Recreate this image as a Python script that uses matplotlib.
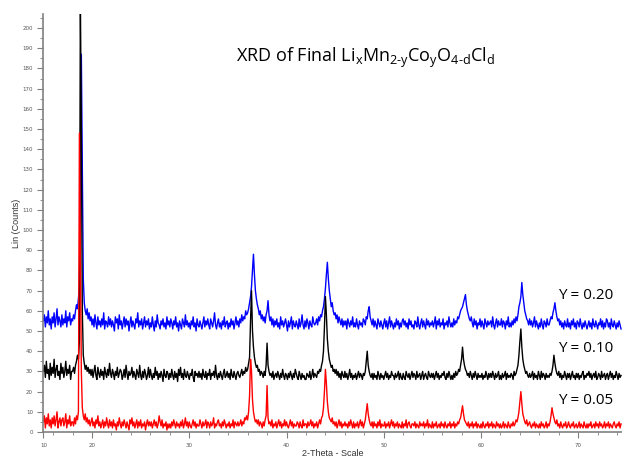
import numpy as np
import matplotlib
matplotlib.use("Agg")
import matplotlib.pyplot as plt
from matplotlib.ticker import MultipleLocator

# intensities, one row per degree (step 0.1 deg), start 15 deg
start = 15.0
step = 0.1

y020 = [55, 58, 52, 57, 54, 60, 53, 56, 51, 57,
        54, 59, 52, 56, 61, 53, 57, 55, 52, 58,
        53, 56, 54, 60, 52, 57, 55, 59, 53, 56,
        55, 58, 56, 60, 63, 61, 66, 72, 110, 187,
        130, 76, 64, 60, 58, 61, 56, 59, 55, 57,
        53, 56, 52, 58, 54, 51, 57, 53, 55, 52,
        56, 53, 59, 51, 55, 54, 52, 57, 53, 56,
        52, 55, 53, 50, 57, 54, 56, 51, 58, 53,
        55, 51, 54, 57, 52, 56, 53, 55, 50, 54,
        57, 52, 55, 53, 51, 56, 54, 59, 52, 55,
        53, 56, 51, 54, 57, 52, 55, 53, 56, 51,
        54, 52, 57, 53, 50, 55, 52, 58, 54, 53,
        51, 55, 53, 56, 52, 54, 51, 57, 53, 55,
        52, 56, 54, 51, 55, 53, 57, 52, 54, 50,
        55, 53, 51, 56, 54, 52, 58, 53, 55, 52,
        54, 51, 55, 53, 57, 52, 54, 50, 56, 53,
        52, 55, 53, 51, 54, 57, 52, 55, 53, 56,
        53, 51, 56, 54, 52, 55, 59, 53, 51, 54,
        56, 52, 54, 51, 55, 53, 57, 52, 54, 55,
        51, 54, 52, 56, 53, 55, 51, 54, 57, 53,
        55, 52, 56, 54, 58, 55, 57, 56, 60, 58,
        59, 61, 64, 67, 72, 80, 88, 78, 70, 66,
        63, 61, 58, 60, 56, 58, 55, 57, 54, 58,
        60, 65, 58, 55, 57, 53, 56, 52, 55, 53,
        56, 52, 54, 51, 57, 53, 55, 52, 54, 56,
        53, 50, 55, 52, 54, 57, 51, 55, 53, 52,
        55, 53, 51, 56, 52, 54, 58, 53, 51, 55,
        52, 56, 54, 51, 55, 53, 52, 57, 54, 53,
        54, 56, 53, 57, 55, 58, 57, 60, 62, 66,
        71, 78, 84, 76, 70, 66, 62, 64, 60, 58,
        59, 56, 58, 54, 57, 55, 53, 56, 52, 55,
        53, 55, 51, 56, 54, 52, 55, 53, 57, 52,
        54, 52, 56, 53, 51, 55, 53, 54, 52, 56,
        55, 53, 57, 56, 60, 62, 57, 55, 53, 56,
        52, 55, 53, 51, 56, 54, 52, 55, 53, 51,
        54, 56, 52, 55, 51, 54, 57, 52, 55, 53,
        51, 54, 52, 56, 53, 55, 51, 54, 52, 55,
        56, 53, 55, 52, 54, 51, 56, 53, 55, 52,
        53, 51, 55, 54, 52, 57, 53, 51, 54, 56,
        52, 55, 53, 51, 56, 53, 55, 52, 54, 53,
        55, 52, 54, 57, 51, 55, 53, 56, 52, 54,
        53, 56, 51, 54, 53, 55, 52, 57, 54, 52,
        54, 52, 56, 53, 55, 54, 57, 56, 58, 60,
        61, 62, 64, 66, 68, 63, 60, 58, 56, 55,
        57, 54, 52, 56, 53, 55, 51, 54, 53, 56,
        52, 55, 53, 51, 56, 54, 52, 55, 53, 54,
        55, 52, 57, 53, 51, 54, 56, 52, 55, 53,
        53, 56, 52, 55, 54, 51, 55, 53, 57, 52,
        54, 52, 55, 53, 56, 54, 57, 55, 58, 62,
        64, 67, 74, 68, 64, 60, 58, 56, 55, 53,
        56, 53, 55, 52, 54, 57, 52, 55, 53, 51,
        54, 52, 56, 53, 51, 55, 54, 52, 56, 53,
        53, 55, 57, 56, 59, 61, 64, 60, 57, 55,
        56, 53, 55, 52, 54, 51, 55, 53, 52, 56,
        52, 54, 51, 55, 53, 56, 52, 54, 51, 55,
        54, 52, 56, 53, 51, 54, 52, 55, 53, 51,
        53, 55, 52, 54, 51, 56, 53, 52, 55, 53,
        51, 54, 53, 56, 52, 55, 51, 54, 52, 56,
        55, 52, 54, 51, 56, 53, 52, 55, 53, 51,
        54, 52, 55, 53, 51]

y010 = [30, 33, 27, 35, 29, 31, 26, 34, 28, 32,
        29, 36, 27, 31, 33, 28, 30, 26, 34, 29,
        32, 27, 30, 35, 28, 31, 29, 33, 26, 30,
        30, 32, 29, 33, 35, 38, 36, 45, 215, 150,
        60, 38, 34, 31, 33, 30, 32, 29, 31, 28,
        31, 27, 30, 33, 28, 26, 32, 29, 27, 31,
        28, 30, 26, 32, 29, 27, 31, 28, 34, 29,
        27, 31, 29, 26, 30, 28, 32, 27, 29, 31,
        30, 26, 28, 31, 27, 33, 29, 26, 30, 28,
        29, 32, 27, 30, 28, 26, 31, 29, 27, 33,
        28, 26, 30, 27, 31, 29, 26, 28, 32, 27,
        31, 28, 26, 29, 27, 32, 28, 30, 26, 29,
        27, 30, 28, 25, 31, 28, 27, 30, 29, 26,
        29, 27, 31, 28, 26, 30, 27, 29, 25, 31,
        28, 32, 27, 29, 26, 31, 28, 27, 30, 28,
        26, 29, 28, 31, 27, 25, 30, 28, 29, 27,
        30, 27, 29, 26, 31, 28, 27, 30, 26, 29,
        28, 31, 26, 29, 28, 30, 27, 33, 28, 26,
        29, 27, 30, 28, 26, 29, 31, 27, 28, 30,
        27, 29, 26, 31, 28, 27, 30, 28, 26, 29,
        30, 28, 27, 29, 31, 28, 30, 29, 32, 30,
        31, 34, 37, 55, 70, 50, 42, 37, 34, 32,
        33, 30, 31, 28, 30, 29, 27, 30, 28, 33,
        44, 33, 30, 28, 29, 27, 30, 26, 28, 29,
        27, 30, 28, 26, 29, 27, 31, 28, 26, 29,
        28, 26, 29, 27, 30, 28, 26, 29, 27, 31,
        29, 27, 26, 30, 28, 26, 29, 27, 28, 26,
        26, 29, 28, 27, 30, 26, 28, 31, 27, 29,
        28, 27, 30, 29, 31, 30, 33, 35, 40, 52,
        67, 58, 46, 40, 36, 34, 32, 33, 30, 31,
        29, 31, 28, 30, 27, 29, 26, 30, 28, 27,
        30, 27, 29, 26, 28, 31, 27, 29, 26, 28,
        27, 29, 26, 28, 30, 27, 29, 28, 26, 29,
        28, 30, 35, 40, 33, 30, 28, 27, 29, 26,
        29, 27, 28, 26, 30, 28, 26, 29, 27, 28,
        26, 28, 30, 27, 29, 26, 28, 27, 30, 28,
        28, 26, 29, 27, 28, 30, 26, 29, 27, 26,
        29, 27, 26, 30, 28, 27, 29, 26, 28, 30,
        27, 29, 28, 26, 30, 27, 28, 29, 26, 28,
        30, 26, 28, 29, 27, 26, 30, 28, 27, 29,
        27, 29, 26, 28, 30, 27, 29, 26, 28, 27,
        29, 28, 30, 27, 26, 29, 27, 30, 28, 26,
        28, 26, 29, 27, 30, 28, 29, 31, 30, 33,
        36, 42, 36, 33, 31, 30, 28, 29, 27, 30,
        28, 26, 29, 27, 30, 28, 26, 29, 27, 28,
        27, 29, 26, 28, 27, 30, 28, 26, 29, 27,
        29, 27, 30, 28, 26, 29, 27, 28, 30, 26,
        28, 26, 29, 27, 28, 30, 26, 29, 27, 28,
        27, 29, 28, 26, 30, 28, 29, 31, 33, 38,
        45, 51, 42, 36, 33, 31, 29, 30, 28, 27,
        29, 27, 28, 30, 26, 29, 27, 28, 26, 30,
        28, 26, 30, 27, 29, 28, 26, 29, 27, 28,
        27, 29, 28, 30, 33, 38, 34, 31, 29, 28,
        30, 27, 29, 26, 28, 27, 30, 28, 26, 29,
        27, 29, 26, 28, 30, 27, 28, 26, 29, 27,
        29, 26, 28, 27, 29, 30, 26, 28, 27, 29,
        28, 30, 27, 29, 26, 28, 29, 27, 30, 26,
        27, 29, 28, 26, 30, 27, 28, 29, 26, 28,
        29, 26, 28, 30, 27, 29, 26, 28, 27, 30,
        28, 26, 29, 27, 28]

y005 = [5, 8, 2, 7, 4, 9, 3, 6, 2, 7,
        4, 8, 3, 6, 10, 2, 5, 7, 3, 6,
        7, 3, 5, 9, 2, 6, 4, 8, 3, 5,
        5, 3, 7, 4, 8, 6, 10, 148, 90, 30,
        12, 8, 6, 9, 5, 7, 4, 6, 3, 5,
        7, 3, 5, 2, 6, 4, 8, 3, 5, 2,
        4, 6, 2, 5, 3, 7, 4, 2, 6, 3,
        5, 2, 6, 3, 4, 1, 5, 3, 7, 4,
        2, 5, 3, 6, 4, 2, 5, 3, 1, 6,
        4, 7, 3, 5, 2, 4, 6, 2, 5, 3,
        6, 2, 4, 3, 5, 1, 4, 6, 3, 5,
        3, 5, 2, 4, 6, 3, 5, 2, 4, 8,
        5, 3, 6, 2, 4, 3, 5, 1, 4, 2,
        4, 2, 5, 3, 6, 4, 2, 5, 3, 4,
        2, 5, 3, 6, 2, 4, 7, 3, 5, 2,
        5, 3, 2, 4, 6, 3, 5, 2, 4, 3,
        3, 6, 4, 2, 5, 3, 4, 6, 2, 5,
        4, 2, 5, 3, 4, 7, 2, 4, 3, 5,
        6, 3, 4, 2, 5, 3, 6, 4, 2, 4,
        3, 5, 2, 4, 3, 6, 2, 5, 4, 3,
        5, 3, 4, 6, 3, 5, 4, 7, 6, 8,
        6, 10, 18, 36, 30, 16, 10, 7, 5, 6,
        4, 6, 3, 5, 4, 2, 5, 3, 6, 8,
        23, 7, 4, 5, 3, 6, 2, 4, 3, 5,
        2, 4, 6, 3, 5, 2, 4, 3, 6, 3,
        5, 3, 2, 4, 6, 3, 5, 2, 4, 3,
        3, 5, 4, 2, 5, 3, 2, 6, 3, 4,
        4, 2, 5, 3, 4, 6, 3, 5, 2, 4,
        3, 5, 2, 4, 6, 4, 7, 8, 12, 20,
        31, 24, 15, 10, 7, 6, 5, 7, 4, 5,
        3, 5, 2, 4, 6, 3, 5, 2, 4, 3,
        5, 3, 4, 2, 5, 3, 6, 4, 2, 5,
        2, 4, 3, 5, 2, 4, 6, 3, 5, 2,
        4, 6, 10, 14, 9, 6, 4, 3, 5, 2,
        5, 3, 4, 2, 5, 3, 6, 2, 4, 3,
        3, 5, 2, 4, 3, 5, 2, 4, 6, 3,
        5, 2, 4, 3, 5, 2, 4, 3, 2, 5,
        2, 4, 3, 6, 2, 4, 5, 3, 2, 4,
        4, 3, 5, 2, 4, 3, 2, 5, 3, 4,
        3, 5, 2, 4, 3, 6, 2, 4, 3, 2,
        5, 2, 4, 3, 5, 2, 3, 4, 2, 5,
        3, 4, 2, 5, 3, 2, 4, 3, 5, 2,
        4, 3, 5, 2, 4, 3, 5, 4, 6, 7,
        10, 13, 9, 6, 5, 4, 3, 5, 2, 4,
        3, 5, 2, 4, 3, 5, 2, 4, 3, 2,
        4, 2, 5, 3, 2, 4, 3, 5, 2, 4,
        3, 5, 2, 4, 3, 2, 5, 3, 4, 2,
        4, 2, 3, 5, 2, 4, 3, 2, 5, 3,
        2, 4, 3, 5, 3, 4, 6, 5, 7, 10,
        15, 20, 14, 9, 7, 5, 4, 6, 3, 4,
        5, 3, 2, 4, 3, 5, 2, 4, 3, 2,
        4, 2, 5, 3, 4, 2, 3, 5, 2, 4,
        3, 5, 8, 12, 9, 7, 5, 4, 6, 3,
        4, 2, 5, 3, 2, 4, 3, 5, 2, 3,
        5, 3, 2, 4, 3, 5, 2, 3, 4, 2,
        3, 5, 2, 4, 3, 2, 5, 3, 2, 4,
        2, 4, 3, 5, 2, 3, 4, 2, 5, 3,
        4, 2, 5, 3, 4, 2, 3, 5, 2, 4,
        3, 5, 2, 4, 3, 2, 4, 5, 3, 2,
        4, 3, 5, 2, 4]

labels = ['Y = 0.20', 'Y = 0.10', 'Y = 0.05']
label_pos = [(70.8, 67.5), (70.8, 41.5), (70.8, 15.5)]
xtick_vals = [15, 20, 30, 40, 50, 60, 70]
xtick_text = ['10', '20', '30', '40', '50', '60', '70']

plt.rcParams['mathtext.fontset'] = 'custom'
plt.rcParams['mathtext.rm'] = 'Open Sans'
plt.rcParams['mathtext.it'] = 'Open Sans'

fig = plt.figure(figsize=(6.22, 4.63), dpi=100)
ax = fig.add_axes([0.0698, 0.067, 0.9302, 0.903])

for ys, col in [(y020, '#0000ff'), (y010, '#000000'), (y005, '#ff0000')]:
    x = start + step * np.arange(len(ys))
    ax.plot(x, ys, color=col, lw=1.0)

ax.set_xlim(15, 74.5)
ax.set_ylim(0, 207)

grey = '#808080'
for s in ['top', 'right']:
    ax.spines[s].set_visible(False)
for s in ['left', 'bottom']:
    ax.spines[s].set_color(grey)
    ax.spines[s].set_linewidth(1.2)

ax.set_yticks(range(0, 201, 10))
ax.yaxis.set_minor_locator(MultipleLocator(5))
ax.set_xticks(xtick_vals, labels=xtick_text)
ax.xaxis.set_minor_locator(MultipleLocator(2))
ax.tick_params(which='major', length=4, width=0.8, color=grey, labelsize=4, labelcolor='#555555')
ax.tick_params(which='minor', length=2, width=0.6, color=grey)
ax.tick_params(axis='x', pad=4)

ax.set_ylabel('Lin (Counts)', fontsize=6.5, color='#333333', family='Liberation Sans', labelpad=1)
ax.set_xlabel('2-Theta - Scale', fontsize=6.5, color='#333333', family='Liberation Sans', labelpad=1)

fig.text(0.588, 0.875, r'XRD of Final Li$_\text{x}$Mn$_\text{2-y}$Co$_\text{y}$O$_\text{4-d}$Cl$_\text{d}$',
         fontsize=13, family='Open Sans', ha='center', va='center')

for t, (lx, ly) in zip(labels, label_pos):
    ax.text(lx, ly, t, fontsize=11, family='Open Sans', ha='center', va='center')

fig.savefig('out.png', dpi=100)
